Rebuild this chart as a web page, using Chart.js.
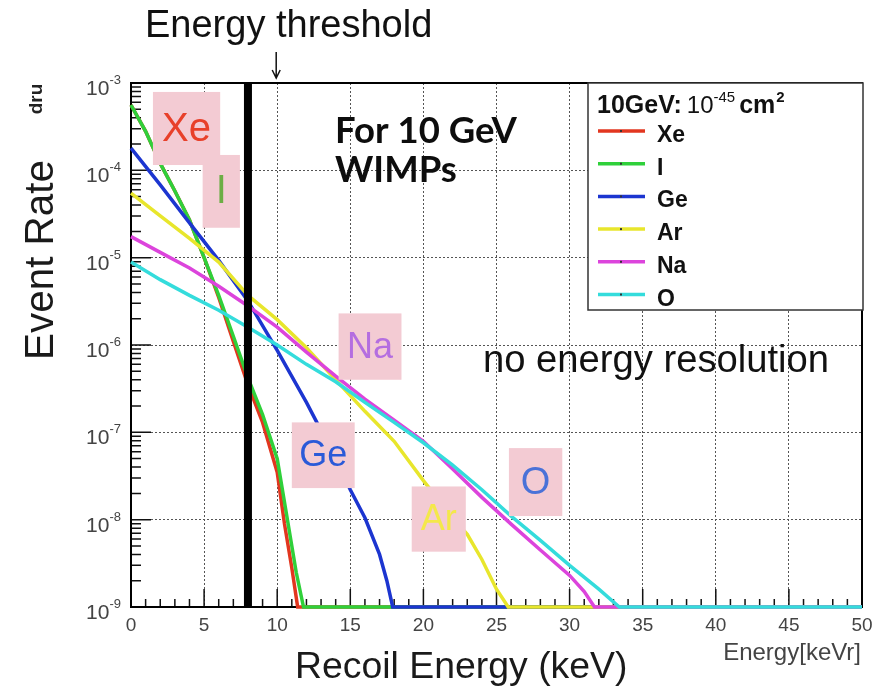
<!DOCTYPE html>
<html>
<head>
<meta charset="utf-8">
<script src="https://cdn.jsdelivr.net/npm/chart.js@4.4.0/dist/chart.umd.min.js"></script>
<style>
    html, body { margin: 0; padding: 0; background: #ffffff; }
    #wrap { width: 881px; height: 692px; position: relative; }
</style>
</head>
<body>
<div id="wrap"><canvas id="main-chart" width="881" height="692"></canvas></div>
<script>
// recoil energy (keVr) and event rate (dru), per target
const xeEnergy = [0, 1, 2, 3, 4, 5, 6, 7, 8, 9, 10, 10.5, 11, 11.4, 50];
const xeRate = [5.6e-4, 2.8e-4, 1.2e-4, 5.8e-5, 2.7e-5, 1.0e-5, 3.5e-6, 1.1e-6, 3.5e-7, 1.3e-7, 3.5e-8, 8.9e-9, 2.8e-9, 1e-9, 1e-9];

const iEnergy = [0, 1, 2, 3, 4, 5, 6, 7, 8, 9, 10, 10.7, 11.3, 11.8, 50];
const iRate = [5.6e-4, 2.8e-4, 1.2e-4, 5.8e-5, 2.7e-5, 1.0e-5, 3.7e-6, 1.26e-6, 4.2e-7, 1.6e-7, 5.0e-8, 1.0e-8, 2.5e-9, 1e-9, 1e-9];

const geEnergy = [0, 2, 4, 6, 8, 10, 12, 14, 15, 16, 17, 17.5, 17.9, 50];
const geRate = [1.8e-4, 6.8e-5, 2.5e-5, 9.3e-6, 3.2e-6, 8.7e-7, 2.2e-7, 5.0e-8, 2.2e-8, 1.05e-8, 4.0e-9, 2.0e-9, 1e-9, 1e-9];

const arEnergy = [0, 2, 4, 6, 8, 10, 12, 14, 16, 18, 20, 22, 23, 24, 25, 25.8, 50];
const arRate = [5.5e-5, 3.0e-5, 1.66e-5, 8.9e-6, 3.7e-6, 1.95e-6, 9.3e-7, 4.0e-7, 1.74e-7, 7.9e-8, 2.8e-8, 1.05e-8, 6.8e-9, 3.5e-9, 1.6e-9, 1e-9, 1e-9];

const naEnergy = [0, 2, 4, 6, 8, 10, 12, 14, 16, 18, 20, 22, 24, 26, 28, 30, 31, 31.7, 50];
const naRate = [1.74e-5, 1.15e-5, 7.6e-6, 4.7e-6, 2.8e-6, 1.6e-6, 8.3e-7, 4.4e-7, 2.4e-7, 1.38e-7, 7.9e-8, 3.8e-8, 1.8e-8, 8.9e-9, 4.5e-9, 2.3e-9, 1.5e-9, 1e-9, 1e-9];

const oEnergy = [0, 2, 4, 6, 8, 10, 12, 14, 16, 18, 20, 22, 24, 26, 28, 30, 32, 33.4, 50];
const oRate = [8.9e-6, 5.6e-6, 3.7e-6, 2.5e-6, 1.6e-6, 1.0e-6, 6.0e-7, 3.8e-7, 2.2e-7, 1.3e-7, 7.6e-8, 4.2e-8, 2.2e-8, 1.1e-8, 5.8e-9, 3.0e-9, 1.6e-9, 1e-9, 1e-9];

const seriesNames = ['Xe', 'I', 'Ge', 'Ar', 'Na', 'O'];
const thresholdEnergy = 8;

const xTickValues = [0, 5, 10, 15, 20, 25, 30, 35, 40, 45, 50];
const xTickLabels = ['0', '5', '10', '15', '20', '25', '30', '35', '40', '45', '50'];
const yTickExponents = [-9, -8, -7, -6, -5, -4, -3];

const seriesColors = ['#e2361f', '#2fd03a', '#1c35d0', '#e8e62c', '#dc44dc', '#34dcdc'];
const energies = [xeEnergy, iEnergy, geEnergy, arEnergy, naEnergy, oEnergy];
const rates = [xeRate, iRate, geRate, arRate, naRate, oRate];

// pink name tags, in data coordinates
const tags = [
    { text: 'Xe', x0: 1.5, x1: 6.1, y0: 7.9e-4, y1: 1.15e-4, color: '#e8402a', size: 40 },
    { text: 'I', x0: 4.9, x1: 7.45, y0: 1.5e-4, y1: 2.2e-5, color: '#6cae45', size: 40 },
    { text: 'Na', x0: 14.2, x1: 18.5, y0: 2.3e-6, y1: 4.0e-7, color: '#b46ee0', size: 36 },
    { text: 'Ge', x0: 11.0, x1: 15.3, y0: 1.3e-7, y1: 2.3e-8, color: '#2a5ad8', size: 36 },
    { text: 'Ar', x0: 19.2, x1: 22.9, y0: 2.4e-8, y1: 4.3e-9, color: '#f4e84a', size: 36 },
    { text: 'O', x0: 25.85, x1: 29.5, y0: 6.6e-8, y1: 1.1e-8, color: '#4a72d8', size: 38 }
];

const SANS = '"Liberation Sans", Arial, sans-serif';

function fitFont(ctx, text, weight, family, targetWidth) {
    ctx.font = weight + ' 100px ' + family;
    const w = ctx.measureText(text).width;
    return weight + ' ' + (100 * targetWidth / w).toFixed(1) + 'px ' + family;
}

const sketchPlugin = {
    id: 'sketch',
    beforeDatasetsDraw(chart) {
        const ctx = chart.ctx;
        const area = chart.chartArea;
        const xs = chart.scales.x;
        const ys = chart.scales.y;
        ctx.save();
        // inward ticks
        ctx.strokeStyle = '#111';
        ctx.lineWidth = 1.5;
        ctx.beginPath();
        for (let e = 0; e <= 50; e++) {
            const px = xs.getPixelForValue(e);
            const len = e % 5 === 0 ? 18 : 8;
            ctx.moveTo(px, area.bottom);
            ctx.lineTo(px, area.bottom - len);
        }
        for (let d = -9; d < -3; d++) {
            for (let k = 1; k < 10; k++) {
                const py = ys.getPixelForValue(k * Math.pow(10, d));
                const len = k === 1 ? 20 : 10;
                ctx.moveTo(area.left, py);
                ctx.lineTo(area.left + len, py);
            }
        }
        ctx.stroke();
        // frame
        ctx.lineWidth = 2;
        ctx.strokeStyle = '#000';
        ctx.strokeRect(area.left, area.top, area.right - area.left, area.bottom - area.top);
        ctx.restore();
    },
    afterDatasetsDraw(chart) {
        const ctx = chart.ctx;
        const xs = chart.scales.x;
        const ys = chart.scales.y;
        ctx.save();
        tags.forEach(t => {
            const left = xs.getPixelForValue(t.x0);
            const right = xs.getPixelForValue(t.x1);
            const top = ys.getPixelForValue(t.y0);
            const bottom = ys.getPixelForValue(t.y1);
            ctx.fillStyle = '#f3cbd3';
            ctx.fillRect(left, top, right - left, bottom - top);
            ctx.fillStyle = t.color;
            ctx.font = t.size + 'px ' + SANS;
            ctx.textAlign = 'center';
            ctx.textBaseline = 'middle';
            ctx.fillText(t.text, (left + right) / 2, (top + bottom) / 2 + 1);
        });
        ctx.restore();
    },
    afterDraw(chart) {
        const ctx = chart.ctx;
        const area = chart.chartArea;
        const xs = chart.scales.x;
        const ys = chart.scales.y;
        ctx.save();

        // x tick labels
        ctx.fillStyle = '#444';
        ctx.font = '19px ' + SANS;
        ctx.textAlign = 'center';
        ctx.textBaseline = 'alphabetic';
        xTickValues.forEach((v, i) => {
            ctx.fillText(xTickLabels[i], xs.getPixelForValue(v), area.bottom + 24);
        });

        // y tick labels 10^n
        yTickExponents.forEach(e => {
            const py = ys.getPixelForValue(Math.pow(10, e));
            const sup = String(e);
            ctx.font = '13px ' + SANS;
            const sw = ctx.measureText(sup).width;
            ctx.font = '21px ' + SANS;
            const bw = ctx.measureText('10').width;
            const right = 121;
            ctx.textAlign = 'left';
            ctx.fillText('10', right - sw - bw, py + 12);
            ctx.font = '13px ' + SANS;
            ctx.fillText(sup, right - sw, py + 1);
        });

        // axis titles
        ctx.fillStyle = '#1a1a1a';
        ctx.textAlign = 'left';
        ctx.font = fitFont(ctx, 'Recoil Energy (keV)', 'normal', SANS, 333);
        ctx.fillText('Recoil Energy (keV)', 295, 678);
        ctx.fillStyle = '#444';
        ctx.font = fitFont(ctx, 'Energy[keVr]', 'normal', SANS, 138);
        ctx.textAlign = 'right';
        ctx.fillText('Energy[keVr]', 861, 660);

        ctx.save();
        ctx.translate(53, 260);
        ctx.rotate(-Math.PI / 2);
        ctx.fillStyle = '#1a1a1a';
        ctx.textAlign = 'center';
        ctx.font = fitFont(ctx, 'Event Rate', 'normal', SANS, 200);
        ctx.fillText('Event Rate', 0, 0);
        ctx.restore();

        ctx.save();
        ctx.translate(42, 99);
        ctx.rotate(-Math.PI / 2);
        ctx.fillStyle = '#222';
        ctx.textAlign = 'center';
        ctx.font = 'bold 19px ' + SANS;
        ctx.fillText('dru', 0, 0);
        ctx.restore();

        // energy threshold note and arrow
        ctx.fillStyle = '#111';
        ctx.textAlign = 'left';
        ctx.font = fitFont(ctx, 'Energy threshold', 'normal', SANS, 287);
        ctx.fillText('Energy threshold', 145, 37);
        const ax = xs.getPixelForValue(10) - 1;
        ctx.strokeStyle = '#111';
        ctx.lineWidth = 1.5;
        ctx.beginPath();
        ctx.moveTo(ax, 52);
        ctx.lineTo(ax, 78);
        ctx.moveTo(ax - 4, 70);
        ctx.lineTo(ax, 78);
        ctx.lineTo(ax + 4, 70);
        ctx.stroke();

        // in-plot notes
        ctx.fillStyle = '#0d0d0d';
        ctx.font = fitFont(ctx, 'For 10 GeV', 'bold', 'Lato, "Open Sans", sans-serif', 182);
        ctx.fillText('For 10 GeV', 335, 143);
        ctx.fillText('WIMPs', 335, 182);
        ctx.fillStyle = '#111';
        ctx.font = fitFont(ctx, 'no energy resolution', 'normal', SANS, 346);
        ctx.fillText('no energy resolution', 483, 372);

        // legend
        const lx = 588, ly = area.top, lw = 275, lh = 227;
        ctx.fillStyle = '#fff';
        ctx.fillRect(lx, ly, lw, lh);
        ctx.strokeStyle = '#333';
        ctx.lineWidth = 1.5;
        ctx.strokeRect(lx, ly, lw, lh);

        let tx = 597;
        const ty = 113;
        ctx.fillStyle = '#111';
        ctx.font = 'bold 25px ' + SANS;
        ctx.fillText('10GeV:', tx, ty);
        tx += ctx.measureText('10GeV:').width + 5;
        ctx.font = '24px ' + SANS;
        ctx.fillText('10', tx, ty);
        tx += ctx.measureText('10').width;
        ctx.font = '15px ' + SANS;
        ctx.fillText('-45', tx, ty - 11);
        tx += ctx.measureText('-45').width + 4;
        ctx.font = 'bold 25px ' + SANS;
        ctx.fillText('cm', tx, ty);
        tx += ctx.measureText('cm').width + 1;
        ctx.font = 'bold 15px ' + SANS;
        ctx.fillText('2', tx, ty - 11);

        seriesNames.forEach((name, i) => {
            const by = 142 + i * 32.7;
            ctx.strokeStyle = seriesColors[i];
            ctx.lineWidth = 3.5;
            ctx.beginPath();
            ctx.moveTo(598, by - 11);
            ctx.lineTo(645, by - 11);
            ctx.stroke();
            ctx.fillStyle = '#333';
            ctx.fillRect(620, by - 12, 2, 2);
            ctx.fillStyle = '#111';
            ctx.font = 'bold 23px ' + SANS;
            ctx.fillText(name, 657, by);
        });

        ctx.restore();
    }
};

const datasets = seriesNames.map((name, i) => ({
    label: name,
    data: energies[i].map((e, j) => ({ x: e, y: rates[i][j] })),
    borderColor: seriesColors[i],
    backgroundColor: seriesColors[i],
    borderWidth: 3.5,
    pointRadius: 0,
    tension: 0,
    fill: false,
    clip: 4,
    order: seriesNames.length - i
}));

datasets.push({
    label: 'threshold',
    data: [{ x: thresholdEnergy, y: 1e-9 }, { x: thresholdEnergy, y: 1e-3 }],
    borderColor: '#000',
    borderWidth: 8,
    pointRadius: 0,
    fill: false,
    order: -1
});

const ctx = document.getElementById('main-chart').getContext('2d');
new Chart(ctx, {
    type: 'line',
    data: { datasets: datasets },
    options: {
        responsive: false,
        animation: false,
        events: [],
        layout: { padding: { left: 131, top: 83, right: 19, bottom: 85 } },
        plugins: { legend: { display: false }, tooltip: { enabled: false } },
        scales: {
            x: {
                type: 'linear',
                min: 0,
                max: 50,
                afterBuildTicks: (axis) => { axis.ticks = xTickValues.map(v => ({ value: v })); },
                ticks: { display: false },
                grid: { color: '#555', lineWidth: 1, drawTicks: false },
                border: { display: false, dash: [2, 2] }
            },
            y: {
                type: 'logarithmic',
                min: 1e-9,
                max: 1e-3,
                afterBuildTicks: (axis) => { axis.ticks = yTickExponents.map(e => ({ value: Math.pow(10, e) })); },
                ticks: { display: false },
                grid: { color: '#555', lineWidth: 1, drawTicks: false },
                border: { display: false, dash: [2, 2] }
            }
        }
    },
    plugins: [sketchPlugin]
});
</script>
</body>
</html>
